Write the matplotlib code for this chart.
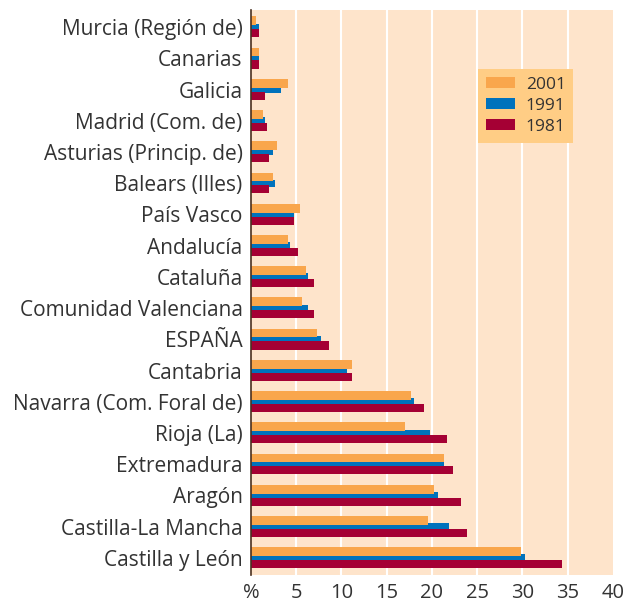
import matplotlib.pyplot as plt
import numpy as np

plt.rcParams['font.family'] = ['Open Sans', 'DejaVu Sans']

regions = ['Murcia (Región de)', 'Canarias', 'Galicia', 'Madrid (Com. de)',
           'Asturias (Princip. de)', 'Balears (Illes)', 'País Vasco', 'Andalucía',
           'Cataluña', 'Comunidad Valenciana', 'ESPAÑA', 'Cantabria',
           'Navarra (Com. Foral de)', 'Rioja (La)', 'Extremadura', 'Aragón',
           'Castilla-La Mancha', 'Castilla y León']
v2001 = [0.5, 0.9, 4.1, 1.3, 2.9, 2.4, 5.4, 4.1, 6.1, 5.6, 7.3, 11.2,
         17.7, 17.0, 21.3, 20.2, 19.6, 29.8]
v1991 = [0.9, 0.9, 3.3, 1.5, 2.4, 2.6, 4.7, 4.3, 6.3, 6.3, 7.7, 10.6,
         18.0, 19.8, 21.3, 20.7, 21.9, 30.3]
v1981 = [0.9, 0.9, 1.5, 1.8, 2.0, 2.0, 4.7, 5.2, 7.0, 7.0, 8.6, 11.2,
         19.1, 21.7, 22.3, 23.2, 23.9, 34.4]
xticks = [0, 5, 10, 15, 20, 25, 30, 35, 40]
xlabels = ['%', '5', '10', '15', '20', '25', '30', '35', '40']

c2001 = '#F9A64C'
c1991 = '#0072BC'
c1981 = '#A50034'
txt = '#333333'

fig = plt.figure(figsize=(6.26, 6.05), dpi=100)
ax = fig.add_axes([0.401, 0.0496, 0.578, 0.934])
ax.set_facecolor('#FEE4CB')

y = np.arange(len(regions))
ax.barh(y + 0.0, v1991, height=0.22, color=c1991, label='1991', zorder=2)
ax.barh(y + 0.2, v1981, height=0.26, color=c1981, label='1981', zorder=3)
ax.barh(y - 0.2, v2001, height=0.28, color=c2001, label='2001', zorder=4)

ax.set_ylim(17.55, -0.55)
ax.set_xlim(0, 40)
ax.set_yticks(y)
ax.set_yticklabels(regions, fontsize=15, color=txt)
ax.set_xticks(xticks)
ax.set_xticklabels(xlabels, fontsize=14.5, color=txt)
ax.tick_params(length=0, pad=6)
ax.tick_params(axis='x', pad=6)

for gx in xticks[1:-1]:
    ax.axvline(gx, color='white', lw=1.5, zorder=1)

for s in ['top', 'right', 'bottom']:
    ax.spines[s].set_visible(False)
ax.spines['left'].set_color('#4a3020')
ax.spines['left'].set_linewidth(1.2)
ax.spines['left'].set_zorder(5)

handles, labels = ax.get_legend_handles_labels()
order = [2, 0, 1]
leg = ax.legend([handles[i] for i in order], [labels[i] for i in order],
                loc='upper left', bbox_to_anchor=(0.627, 0.896),
                fontsize=12.5, frameon=True, fancybox=False,
                handlelength=1.7, handleheight=0.6, labelspacing=0.3,
                borderpad=0.45, handletextpad=0.6, borderaxespad=0)
leg.get_frame().set_facecolor('#FFCD85')
leg.get_frame().set_edgecolor('none')
leg.get_frame().set_alpha(1)
for t in leg.get_texts():
    t.set_color(txt)

fig.savefig('out.png', dpi=100)
